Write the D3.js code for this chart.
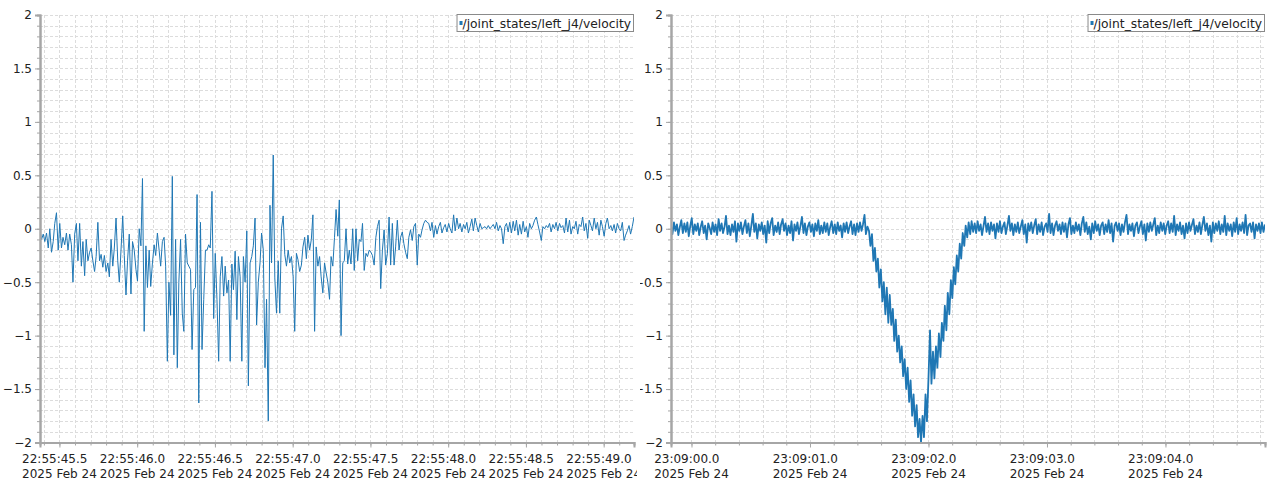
<!DOCTYPE html>
<html>
<head>
<meta charset="utf-8">
<script src="https://cdn.jsdelivr.net/npm/d3@7"></script>
<style>
  body { margin: 0; background: #fff; }
  svg { display: block; font-family: "DejaVu Sans", "Noto Sans", sans-serif; }
</style>
</head>
<body>
<div id="chart"></div>
<script>
'use strict';

// series name shown in both legends
var seriesName = "/joint_states/left_j4/velocity";

// left plot: first/last sample time, samples (rad/s)
var leftStart = "2025-02-24T22:55:45.375";
var leftEnd = "2025-02-24T22:55:49.195";
var leftValues = [
  -0.02,-0.1,-0.05,-0.12,-0.04,-0.18,0.0,-0.22,-0.12,0.05,0.15,-0.2,0.05,-0.18,-0.08,-0.15,-0.04,-0.2,-0.05,-0.15,-0.5,
  -0.05,0.05,-0.3,0.05,-0.35,-0.12,-0.44,-0.1,-0.3,-0.22,-0.18,-0.3,-0.4,-0.26,0.06,-0.3,-0.24,-0.36,-0.25,
  -0.4,-0.32,-0.45,-0.1,-0.35,-0.18,0.1,-0.3,-0.5,-0.2,0.12,-0.25,-0.62,-0.3,-0.05,-0.61,-0.12,-0.2,
  -0.38,-0.49,0.0,-0.16,0.47,-0.96,-0.16,-0.55,-0.2,-0.54,-0.32,-0.15,-0.25,-0.04,-0.2,-0.35,-0.12,-0.08,-0.35,
  -1.24,-0.5,-0.81,0.49,-1.18,-0.1,-1.3,-0.5,-0.1,-0.79,-0.96,-0.05,-0.32,-0.35,-0.38,-1.13,-0.57,-0.55,0.32,-1.63,0.06,-1.13,-0.66,-0.2,-0.2,-0.15,
  -0.18,0.35,-0.84,-0.23,-0.66,-1.24,-0.45,-0.26,-0.63,-0.35,-0.6,-0.48,-1.24,-0.33,-0.57,-0.21,-0.85,-0.26,-0.45,-1.24,-0.26,-0.5,-0.02,-1.47,-0.32,-0.26,
  -0.16,0.1,-0.9,-0.5,-0.32,-0.04,-0.2,-1.3,-0.66,-1.8,0.22,-0.32,0.69,-0.46,-0.79,-0.3,-0.79,
  0.0,0.12,-0.24,-0.35,-0.2,-0.32,-0.26,-0.45,-0.96,-0.23,-0.29,-0.4,-0.34,-0.17,-0.08,-0.28,-0.06,-0.2,-0.1,0.13,
  -0.96,-0.17,-0.35,-0.26,-0.45,-0.6,-0.32,-0.41,-0.5,-0.66,-0.26,-0.35,-0.08,0.18,-0.07,0.27,-1.0,-0.32,-0.3,
  0.0,-0.33,-0.2,-0.33,0.0,-0.39,0.0,-0.3,-0.1,-0.12,0.05,-0.39,-0.23,-0.26,-0.2,-0.22,-0.25,-0.34,-0.08,0.02,
  0.08,-0.56,-0.2,-0.01,-0.34,-0.23,0.11,-0.34,0.05,-0.34,-0.17,0.08,-0.2,-0.08,-0.03,-0.14,-0.22,-0.28,-0.08,-0.01,
  -0.11,0.02,0.05,-0.34,-0.05,-0.08,-0.01,0.05,0.08,0.06,
  0.05,-0.02,0.06,-0.08,0.03,-0.05,0.02,0.06,-0.04,0.01,
  0.04,-0.03,0.05,0.0,-0.04,0.13,-0.02,0.1,0.0,0.05,
  -0.03,0.04,0.0,0.06,-0.04,0.02,0.09,-0.02,0.1,0.03,
  -0.03,0.05,0.0,0.01,0.02,0.0,0.03,0.0,0.02,0.04,
  0.0,0.06,-0.02,0.03,0.0,-0.14,0.02,0.05,-0.03,0.06,
  -0.04,0.07,-0.02,0.08,-0.06,0.04,-0.05,0.07,-0.03,0.02,
  -0.08,0.05,0.0,0.03,0.08,0.11,0.04,-0.03,-0.11,0.02,
  0.0,0.03,0.01,0.05,-0.03,0.04,0.0,0.06,-0.02,0.05,
  0.01,0.03,-0.04,0.1,-0.03,0.08,-0.05,0.02,0.0,0.07,
  -0.05,0.04,0.02,0.11,-0.02,0.05,-0.09,0.08,0.03,-0.02,
  0.1,0.0,0.06,-0.06,0.08,0.02,-0.07,0.05,0.1,0.0,
  0.03,-0.02,0.04,-0.04,0.05,0.0,-0.02,0.06,-0.11,-0.06,
  -0.02,0.03,-0.05,0.02,0.11
];

// right plot: first/last sample time, samples (rad/s)
var rightStart = "2025-02-24T23:08:59.827";
var rightEnd = "2025-02-24T23:09:04.840";
var rightValues = [
  0.03,-0.05,0.06,-0.02,0.04,-0.06,0.02,0.08,-0.04,0.05,
  -0.03,0.06,-0.07,0.03,0.1,-0.05,0.04,-0.02,0.05,-0.06,
  0.02,0.07,-0.04,0.03,-0.1,0.05,0.01,-0.05,0.06,-0.03,
  0.04,-0.06,0.09,-0.02,0.05,-0.04,0.02,0.12,-0.05,0.03,
  -0.06,0.04,-0.03,0.07,-0.12,0.05,-0.02,0.06,-0.05,0.02,
  0.08,-0.04,0.05,-0.07,0.03,0.14,-0.03,0.05,-0.09,0.04,
  -0.02,0.06,-0.05,0.03,-0.13,0.07,-0.04,0.05,0.1,-0.06,
  0.03,-0.03,0.06,-0.05,0.04,0.09,-0.02,0.05,-0.06,0.03,
  -0.04,0.07,-0.11,0.04,-0.02,0.06,-0.05,0.03,0.11,-0.04,
  0.05,-0.06,0.02,0.06,-0.03,0.04,-0.07,0.05,-0.02,0.08,
  -0.05,0.03,-0.04,0.06,-0.03,0.05,-0.06,0.02,0.07,-0.04,
  0.04,-0.05,0.06,-0.02,0.03,-0.08,0.05,-0.03,0.06,-0.04,
  0.02,0.07,-0.05,0.04,-0.06,0.05,-0.03,0.06,-0.02,0.04,
  0.13,-0.05,0.02,
  -0.02,-0.16,-0.05,-0.3,-0.18,-0.4,-0.28,-0.55,-0.38,-0.68,
  -0.5,-0.8,-0.55,-0.88,-0.62,-0.9,-0.75,-1.05,-0.85,-1.15,
  -1.0,-1.25,-1.1,-1.38,-1.22,-1.5,-1.3,-1.62,-1.42,-1.75,
  -1.55,-1.85,-1.65,-1.95,-1.78,-2.0,
  -1.75,-1.95,-1.55,-1.8,-1.4,-0.95,-1.45,-1.15,-1.4,-1.1,
  -1.3,-0.98,-1.2,-0.88,-1.05,-0.72,-0.95,-0.6,-0.8,-0.48,
  -0.65,-0.36,-0.52,-0.25,-0.4,-0.14,-0.28,-0.04,-0.16,0.03,
  -0.08,0.06,-0.05,0.07,-0.03,
  0.05,-0.04,0.07,-0.02,0.04,-0.06,0.03,0.11,-0.03,0.05,
  -0.05,0.06,-0.02,0.04,-0.09,0.05,-0.03,0.07,-0.04,0.02,
  0.06,-0.05,0.03,0.12,-0.02,0.05,-0.06,0.04,-0.03,0.06,
  -0.04,0.02,0.08,-0.05,0.04,-0.13,0.05,-0.02,0.06,-0.04,
  0.03,0.09,-0.05,0.04,-0.03,0.06,-0.06,0.02,0.05,-0.03,
  0.14,-0.04,0.05,-0.06,0.03,0.07,-0.02,0.04,-0.05,0.06,
  -0.03,0.05,-0.08,0.04,0.1,-0.05,0.03,-0.04,0.06,-0.02,
  0.04,-0.06,0.05,0.11,-0.03,0.06,-0.05,0.02,-0.1,0.05,
  -0.04,0.07,-0.02,0.04,-0.06,0.03,0.06,-0.05,0.04,-0.03,
  0.08,-0.04,0.05,-0.12,0.03,0.06,-0.02,0.05,-0.06,0.04,
  -0.03,0.06,0.13,-0.05,0.04,-0.02,0.05,-0.07,0.03,0.06,
  -0.04,0.02,0.07,-0.05,0.04,-0.11,0.05,-0.03,0.06,-0.02,
  0.04,0.1,-0.06,0.03,-0.04,0.06,-0.02,0.05,-0.05,0.03,
  0.07,-0.04,0.05,-0.03,0.12,-0.06,0.04,-0.02,0.06,-0.05,
  0.03,-0.09,0.05,-0.04,0.06,-0.02,0.04,0.09,-0.05,0.03,
  -0.03,0.06,-0.05,0.04,0.11,-0.02,0.05,-0.06,0.03,-0.12,
  0.06,-0.04,0.05,-0.02,0.07,-0.05,0.04,-0.03,0.12,-0.06,
  0.05,-0.02,0.04,-0.07,0.06,-0.03,0.1,-0.05,0.04,-0.02,
  0.06,-0.04,0.13,-0.06,0.03,0.05,-0.03,0.06,-0.09,0.04,
  -0.02,0.05,-0.04,0.06,-0.03,0.04
];

// y axis: range, labelled ticks, grid step
var yDomain = [-2, 2];
var yMajorTicks = [-2, -1.5, -1, -0.5, 0, 0.5, 1, 1.5, 2];
var yMinorStep = 0.1;

var width = 1269, height = 483;
var blue = "#1f77b4";
var axisGrey = "#a6a6a6";
var textColor = "#222";

var svg = d3.select("#chart").append("svg")
  .attr("width", width)
  .attr("height", height);

// turn start/end + count into sample points
function toSeries(start, end, values) {
  var t0 = new Date(start).getTime();
  var t1 = new Date(end).getTime();
  var step = (t1 - t0) / (values.length - 1);
  return values.map(function(v, i) {
    return { date: new Date(t0 + i * step), value: v };
  });
}

var timeFmt = d3.timeFormat("%H:%M:%S");
var dateFmt = d3.timeFormat("%Y %b %d");
function tickTime(d) {
  return timeFmt(d) + "." + Math.floor(d.getMilliseconds() / 100);
}

function drawPanel(p) {
  var g = svg.append("g");
  var clipId = "clip" + p.id;
  var panelClip = "pclip" + p.id;

  svg.append("clipPath").attr("id", clipId)
    .append("rect")
    .attr("x", p.left).attr("y", p.top - 1)
    .attr("width", p.right - p.left).attr("height", p.bottom - p.top + 2);
  svg.append("clipPath").attr("id", panelClip)
    .append("rect")
    .attr("x", p.x0).attr("y", 0)
    .attr("width", p.x1 - p.x0).attr("height", height);
  g.attr("clip-path", "url(#" + panelClip + ")");

  var data = toSeries(p.start, p.end, p.values);

  var x = d3.scaleTime()
    .domain([new Date(p.start), new Date(p.end)])
    .range([p.left, p.right]);
  var y = d3.scaleLinear()
    .domain(yDomain)
    .range([p.bottom, p.top]);

  var minorX = x.ticks(d3.timeMillisecond.every(p.minorMs));
  var majorX = x.ticks(d3.timeMillisecond.every(p.majorMs));
  var minorY = d3.range(yDomain[0], yDomain[1] + 1e-9, yMinorStep).map(function(v) { return Math.round(v * 10) / 10; });

  // grid
  var grid = g.append("g")
    .attr("stroke", "#dcdcdc")
    .attr("stroke-width", 1)
    .attr("stroke-dasharray", "3,2");
  grid.selectAll(".gx").data(minorX).enter().append("line")
    .attr("x1", function(d) { return Math.round(x(d)) + 0.5; })
    .attr("x2", function(d) { return Math.round(x(d)) + 0.5; })
    .attr("y1", p.top).attr("y2", p.bottom);
  grid.selectAll(".gy").data(minorY).enter().append("line")
    .attr("x1", p.left).attr("x2", p.right)
    .attr("y1", function(d) { return Math.round(y(d)) + 0.5; })
    .attr("y2", function(d) { return Math.round(y(d)) + 0.5; });

  // series
  var line = d3.line()
    .x(function(d) { return x(d.date); })
    .y(function(d) { return y(d.value); });
  g.append("path")
    .datum(data)
    .attr("clip-path", "url(#" + clipId + ")")
    .attr("fill", "none")
    .attr("stroke", blue)
    .attr("stroke-width", p.lineWidth)
    .attr("stroke-linejoin", "round")
    .attr("d", line);

  // y axis: minor then labelled ticks
  g.append("g")
    .attr("transform", "translate(" + p.left + ",0)")
    .call(d3.axisLeft(y).tickValues(minorY).tickSize(3).tickFormat(""))
    .call(styleAxis);
  g.append("g")
    .attr("transform", "translate(" + p.left + ",0)")
    .call(d3.axisLeft(y).tickValues(yMajorTicks).tickSize(5).tickPadding(3)
      .tickFormat(function(d) { return d3.format("")(d); }))
    .call(styleAxis)
    .selectAll("text")
    .attr("font-family", "DejaVu Sans")
    .attr("font-size", 12)
    .attr("fill", textColor);

  // x axis
  g.append("g")
    .attr("transform", "translate(0," + p.bottom + ")")
    .call(d3.axisBottom(x).tickValues(minorX).tickSize(3).tickFormat(""))
    .call(styleAxis);
  g.append("g")
    .attr("transform", "translate(0," + p.bottom + ")")
    .call(d3.axisBottom(x).tickValues(majorX).tickSize(5).tickFormat(""))
    .call(styleAxis);

  // two-line tick labels, left-aligned in a centred block
  var labels = g.append("g")
    .attr("font-size", 12)
    .attr("fill", textColor);
  majorX.forEach(function(d) {
    var t1 = labels.append("text").attr("y", p.bottom + 20.5).text(tickTime(d));
    var t2 = labels.append("text").attr("y", p.bottom + 35).text(dateFmt(d));
    var w = Math.max(t1.node().getComputedTextLength(), t2.node().getComputedTextLength());
    var sx = x(d) - w / 2;
    t1.attr("x", sx);
    t2.attr("x", sx);
  });

  // legend
  var lgd = g.append("g");
  var txt = lgd.append("text")
    .attr("font-size", 12.3)
    .attr("fill", textColor)
    .attr("y", p.top + 12.5)
    .text(seriesName);
  var tw = txt.node().getComputedTextLength();
  var bx = p.right - tw - 9;
  txt.attr("x", bx + 6);
  lgd.insert("rect", "text")
    .attr("x", bx + 0.5).attr("y", p.top - 0.5)
    .attr("width", tw + 8).attr("height", 17)
    .attr("fill", "#fff")
    .attr("stroke", "#8a8a8a");
  lgd.append("rect")
    .attr("x", bx + 3).attr("y", p.top + 6)
    .attr("width", 3).attr("height", 4)
    .attr("fill", blue);
}

function styleAxis(sel) {
  sel.select(".domain").attr("stroke", axisGrey).attr("stroke-width", 2);
  sel.selectAll(".tick line").attr("stroke", axisGrey);
}

drawPanel({
  id: "L", x0: 0, x1: 637,
  left: 40, right: 634, top: 15, bottom: 442.5,
  start: leftStart, end: leftEnd, values: leftValues,
  majorMs: 500, minorMs: 100, lineWidth: 1
});

drawPanel({
  id: "R", x0: 640, x1: 1269,
  left: 671, right: 1265, top: 15, bottom: 442.5,
  start: rightStart, end: rightEnd, values: rightValues,
  majorMs: 1000, minorMs: 200, lineWidth: 1.8
});
</script>
</body>
</html>
